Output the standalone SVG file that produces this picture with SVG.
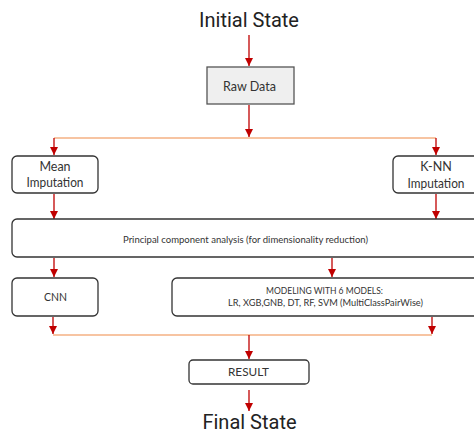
<svg xmlns="http://www.w3.org/2000/svg" width="474" height="434" viewBox="0 0 474 434">
<defs>
<style>
.box{fill:#ffffff;stroke:#333333;stroke-width:1.3}
.raw{fill:#efefef;stroke:#555555;stroke-width:1.3}
.t{font-family:Lato,"Open Sans","Liberation Sans",sans-serif;fill:#333333;text-anchor:middle}
.big{font-family:Roboto,"Liberation Sans",sans-serif;fill:#222222;text-anchor:middle;font-size:20px}
.red{stroke:#c00000;stroke-width:1.3;fill:none}
.org{stroke:#f4b183;stroke-width:1.6;fill:none}
</style>
<marker id="a" markerUnits="userSpaceOnUse" markerWidth="8" markerHeight="8" refX="8" refY="4" orient="auto" viewBox="0 0 8 8">
<path d="M0,0 L8,4 L0,8 Z" fill="#c00000"/>
</marker>
</defs>

<g id="connectors">
<line class="red" x1="249" y1="35" x2="249" y2="66" marker-end="url(#a)"/>
<line class="red" x1="249" y1="105" x2="249" y2="137" marker-end="url(#a)"/>
<polyline class="org" points="54,138 436,138"/>
<line class="red" x1="54" y1="138" x2="54" y2="155" marker-end="url(#a)"/>
<line class="red" x1="436" y1="138" x2="436" y2="155" marker-end="url(#a)"/>
<line class="red" x1="54" y1="194" x2="54" y2="219" marker-end="url(#a)"/>
<line class="red" x1="436" y1="194" x2="436" y2="219" marker-end="url(#a)"/>
<line class="red" x1="54" y1="258" x2="54" y2="277" marker-end="url(#a)"/>
<line class="red" x1="332" y1="258" x2="332" y2="277" marker-end="url(#a)"/>
<line class="red" x1="53" y1="317" x2="53" y2="334" marker-end="url(#a)"/>
<line class="red" x1="432" y1="317" x2="432" y2="334" marker-end="url(#a)"/>
<polyline class="org" points="53,335 432,335"/>
<line class="red" x1="249" y1="335" x2="249" y2="359" marker-end="url(#a)"/>
<line class="red" x1="249" y1="390" x2="249" y2="411" marker-end="url(#a)"/>
</g>

<g id="initial-state">
<text class="big" x="249" y="27">Initial State</text>
</g>

<g id="raw-data">
<rect class="raw" x="207" y="67" width="87" height="37"/>
<text class="t" x="249.5" y="90.5" font-size="12.5" textLength="53" lengthAdjust="spacingAndGlyphs">Raw Data</text>
</g>

<g id="mean-imputation">
<rect class="box" x="12" y="156" width="86" height="37" rx="5"/>
<text class="t" x="55" y="171" font-size="12.5">Mean</text>
<text class="t" x="55" y="187" font-size="12.5" textLength="57" lengthAdjust="spacingAndGlyphs">Imputation</text>
</g>

<g id="knn-imputation">
<rect class="box" x="393" y="156" width="90" height="37" rx="5"/>
<text class="t" x="436" y="171" font-size="12.5">K-NN</text>
<text class="t" x="436" y="188" font-size="12.5" textLength="57" lengthAdjust="spacingAndGlyphs">Imputation</text>
</g>

<g id="pca">
<rect class="box" x="12" y="219" width="470" height="38" rx="5"/>
<text class="t" x="245.5" y="243" font-size="9.5" textLength="245" lengthAdjust="spacingAndGlyphs">Principal component analysis (for dimensionality reduction)</text>
</g>

<g id="cnn">
<rect class="box" x="12" y="278" width="86" height="38" rx="5"/>
<text class="t" x="55.5" y="301" font-size="10.5" textLength="23" lengthAdjust="spacingAndGlyphs">CNN</text>
</g>

<g id="modeling">
<rect class="box" x="172" y="278" width="310" height="38" rx="5"/>
<text class="t" x="324.5" y="293.5" font-size="10" textLength="117" lengthAdjust="spacingAndGlyphs">MODELING WITH 6 MODELS:</text>
<text class="t" x="325.5" y="306" font-size="10" textLength="195" lengthAdjust="spacingAndGlyphs">LR, XGB,GNB, DT, RF, SVM (MultiClassPairWise)</text>
</g>

<g id="result">
<rect class="box" x="189" y="360" width="120" height="24" rx="4"/>
<text class="t" x="248.5" y="376" font-size="11" textLength="41" lengthAdjust="spacingAndGlyphs">RESULT</text>
</g>

<g id="final-state">
<text class="big" x="249.5" y="429">Final State</text>
</g>
</svg>
